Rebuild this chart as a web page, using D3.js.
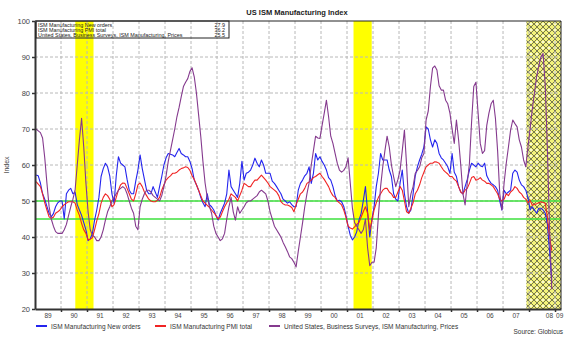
<!DOCTYPE html>
<html>
<head>
<meta charset="utf-8">
<script src="https://cdn.jsdelivr.net/npm/d3@7"></script>
<style>
  html, body { margin: 0; padding: 0; background: #fff; }
  svg { display: block; font-family: "Liberation Sans", Arial, sans-serif; }
</style>
</head>
<body>
<svg id="chart" width="580" height="346"></svg>
<script>
// ---------------- DATA (monthly, Jan 1989 .. Nov 2008) ----------------
const firstYear = 1989;
const seriesNames = [
  "ISM Manufacturing New orders",
  "ISM Manufacturing PMI total",
  "United States, Business Surveys, ISM Manufacturing, Prices"
];
const newOrders = [
  57.2, 57, 55, 52, 50.5, 48.5, 46.6, 45.6, 46.5, 48.4, 49.5, 50,
  50, 45, 52, 53, 53.5, 52, 52.5, 49, 47.5, 46, 44, 42,
  39, 39.5, 41, 44.7, 47.5, 51, 56.8, 59, 60.5, 59.5, 57, 52,
  49.4, 57, 62.3, 60.5, 60, 59.5, 56, 53, 52, 52, 55.5, 58.6,
  62.8, 59, 56, 53, 52, 52, 54, 52.5, 51, 54, 56.8, 60,
  62, 63.2, 63, 62.8, 62.3, 63.5, 64.6, 63.2, 62.8, 62.3, 62.3, 61,
  59, 55.8, 54.5, 53, 51, 49.5, 48.4, 52, 49, 48.4, 47.5, 46,
  44.7, 46.6, 48, 49.4, 52, 58.6, 54, 53, 52, 51, 54.9, 61,
  55.8, 57.7, 58, 58.6, 60, 61.9, 60.5, 59.5, 61.4, 60, 57.7, 57.7,
  57.7, 55.5, 54.9, 54, 53, 52, 50.5, 50, 49.4, 49.8, 49, 48.4,
  48.4, 53, 54.9, 55.8, 57, 57.7, 59.5, 54.9, 57.7, 63.2, 61.4, 62.3,
  61, 60, 58.6, 56.5, 55.8, 54, 51.5, 50, 50.2, 49.8, 48.5, 46,
  43, 40.5, 39.2, 40, 41.5, 44.7, 46.5, 50, 54, 47, 40, 45,
  48.4, 54, 57.7, 63.2, 61.4, 61.4, 61.4, 58.6, 56.8, 52, 50.5, 50,
  55, 58.6, 52, 48.4, 46.6, 47.5, 52, 57, 59.5, 61.4, 63, 65,
  70.6, 70, 67, 65, 67, 66, 63.2, 62, 61.4, 60.5, 59.5, 57.7,
  63.2, 58, 56.8, 54, 52.5, 52, 54, 56, 58.6, 60.5, 60, 59.5,
  60.5, 59.8, 59.5, 60.5, 57, 55.8, 54.9, 54.5, 54, 53, 50, 47.5,
  53, 52, 52.5, 53, 57.7, 58.6, 58, 55.8, 54.5, 54, 53, 51,
  47.5, 48.4, 47.5, 46.6, 48, 48, 47.5, 46.6, 43.5, 36, 27.9
];
const pmiTotal = [
  55.4, 54.7, 54, 52, 49.5, 47.5, 45.6, 45.2, 45.5, 46.6, 47, 47.5,
  48.4, 49, 49.4, 49.8, 49.8, 49.8, 49.4, 47.5, 46, 43.8, 42, 41,
  39.2, 39.4, 39.8, 42, 44.5, 46.5, 49.4, 51, 52, 51.5, 50.5, 48.4,
  49, 51, 53, 54.5, 55, 54.9, 53.5, 52, 50.5, 50, 52, 54.5,
  55, 54, 52.5, 51.5, 50.5, 50, 49.8, 49.8, 50.2, 51, 53, 54.5,
  55.8, 56.5, 57, 57.7, 57.7, 58, 58.6, 59, 59.2, 59.5, 59.3, 58.5,
  57, 56, 54.5, 53, 51.5, 50, 49.4, 48.8, 48.2, 47.5, 46.8, 46,
  45, 45.5, 47, 48.4, 49.5, 50.5, 52, 51.5, 51, 50, 51.5, 53,
  54.9, 54.5, 54, 54, 55, 55.8, 55.8, 56.5, 57.2, 56.5, 55.8, 55,
  54, 53.5, 53, 52.5, 51.5, 49.8, 49.2, 48.9, 48.9, 48.6, 48.2, 47,
  49, 50.5, 52, 52.5, 53.5, 54.9, 55.3, 55.8, 56.5, 56.8, 57.3, 57.7,
  56.8, 56, 55, 54, 52.5, 51.5, 51, 50, 49.5, 48.9, 47.5, 45.5,
  43, 42.5, 42.2, 42.8, 43.5, 44, 45.5, 47, 48.4, 46.6, 42, 44.5,
  47.5, 49.5, 51, 52, 53, 53.5, 53.5, 52.5, 52, 51, 51, 52.5,
  54, 53, 50, 47, 46.6, 48, 49.5, 52, 53, 54.5, 56.5, 58,
  59.5, 60, 60.5, 60.5, 60.9, 60.8, 60.5, 59.5, 58.6, 58, 57.5, 56.8,
  56.8, 56, 55.5, 54, 52.5, 52, 53, 53.5, 54.9, 56.5, 56.8, 55.8,
  56, 56.5, 55.8, 55.5, 54.9, 54.9, 54.5, 54, 53, 52, 50.5, 50,
  50.5, 52, 51.5, 52.5, 53, 54, 53.5, 52.5, 52, 51, 50.5, 49.5,
  50.2, 48.8, 49, 49.2, 49.5, 49.8, 49.6, 49.4, 45.5, 40, 36.2
];
const prices = [
  70, 69.5, 69, 67.5, 62, 55, 48.5, 45, 43, 41.5, 41, 41,
  41, 42, 43.5, 46, 48.4, 50.5, 53, 60, 67, 73, 65, 55,
  47, 42, 40.5, 40, 39, 39, 40, 42, 44.7, 47, 48.4, 50,
  51, 52, 53, 53.5, 54, 53.5, 52, 50, 48, 46.6, 43, 42,
  48.4, 50.5, 52, 53, 53, 52.5, 51.5, 51, 50.5, 50, 51.5, 54,
  57, 61, 64, 67, 70, 73.4, 76, 79, 81.8, 83, 84, 86,
  87, 84.5, 80, 74, 68, 61, 55, 51, 48.5, 46.6, 43, 41,
  40, 39, 39.5, 41, 45, 48.4, 51, 47, 44.7, 48.4, 46.6, 47.5,
  48.4, 49.5, 50, 50, 50.5, 51, 51.5, 52.5, 53, 52.5, 52, 50,
  47, 45, 43, 42, 41, 40, 38.5, 37.3, 36, 34.5, 34, 33,
  31.7, 36, 40, 44, 48.4, 52, 55, 60, 64, 68, 67.5, 67.4,
  71, 74.4, 78, 73.4, 68, 66, 63.2, 60.5, 58.6, 58, 58.5, 59.5,
  62, 55, 48, 44, 43, 42, 41, 42, 45, 37, 32, 33,
  33, 37, 46, 54, 59.5, 64, 68, 65, 60, 56.8, 54, 56,
  58.6, 64, 69.7, 60, 48.4, 52, 54, 57.7, 58.5, 59.5, 62, 63.2,
  72.5, 75, 81.8, 86.9, 87.5, 86.4, 82, 80.8, 80.8, 78, 77, 74.4,
  70, 66, 72.5, 67, 60, 52, 48.9, 55, 60.5, 72, 81.8, 83,
  74.4, 66, 63.2, 64, 71, 74.4, 77, 78, 73, 64, 52, 47.5,
  55, 60.5, 65, 69.7, 72.5, 71.5, 70.6, 67, 65, 61.4, 59.5, 65,
  70, 75.5, 80, 84.5, 87.5, 90, 91, 82, 64, 42, 25.5
];
const yearLabels = ["89","90","91","92","93","94","95","96","97","98","99","00","01","02","03","04","05","06","07","08","09"];
const yTicks = [20, 30, 40, 50, 60, 70, 80, 90, 100];
const refLevels = [50, 45];
// recessions as [start, end] in decimal years; last one is open (hatched)
const recessions = [[1990.55, 1991.25], [2001.25, 2001.95]];
const openRecessionStart = 2007.9;
const xEnd = 2009.23;

// ---------------- LAYOUT ----------------
const svg = d3.select("#chart");
const L = 35, R = 561, T = 21, B = 309;
const x = d3.scaleLinear().domain([firstYear, xEnd]).range([L, R]);
const y = d3.scaleLinear().domain([20, 100]).range([B, T]);
const monthTime = i => firstYear + (i + 0.5) / 12;

const colors = ["#2424ee", "#f02424", "#853a8e"];
const series = [newOrders, pmiTotal, prices];

// pattern for the open recession
const defs = svg.append("defs");
const pat = defs.append("pattern").attr("id", "hatch").attr("patternUnits", "userSpaceOnUse")
  .attr("width", 6).attr("height", 6);
pat.append("rect").attr("width", 6).attr("height", 6).attr("fill", "#f2f27a");
pat.append("path").attr("d", "M0,0L6,6M6,0L0,6").attr("stroke", "#5a5a44").attr("stroke-width", 0.8);
pat.append("circle").attr("cx", 3).attr("cy", 0).attr("r", 1.1).attr("fill", "#fbfbe8");
pat.append("circle").attr("cx", 3).attr("cy", 6).attr("r", 1.1).attr("fill", "#fbfbe8");

// recession shading
svg.append("g").selectAll("rect").data(recessions).join("rect")
  .attr("x", d => x(d[0])).attr("y", T)
  .attr("width", d => x(d[1]) - x(d[0])).attr("height", B - T)
  .attr("fill", "#ffff00");
svg.append("rect").attr("x", x(openRecessionStart)).attr("y", T)
  .attr("width", R - x(openRecessionStart)).attr("height", B - T)
  .attr("fill", "url(#hatch)");

// grid
const years = d3.range(firstYear, firstYear + yearLabels.length);
svg.append("g").selectAll("line").data(years.slice(1)).join("line")
  .attr("x1", d => x(d)).attr("x2", d => x(d)).attr("y1", T).attr("y2", B)
  .attr("stroke", "#b8b8b8").attr("stroke-width", 1).attr("stroke-dasharray", "3,2");
svg.append("g").selectAll("line").data(yTicks.slice(1, -1)).join("line")
  .attr("x1", L).attr("x2", R).attr("y1", d => y(d)).attr("y2", d => y(d))
  .attr("stroke", "#b8b8b8").attr("stroke-width", 1).attr("stroke-dasharray", "3,2");

// reference green lines
svg.append("g").selectAll("line").data(refLevels).join("line")
  .attr("x1", L).attr("x2", R).attr("y1", d => y(d)).attr("y2", d => y(d))
  .attr("stroke", "#3ee03e").attr("stroke-width", 1.4);

// series lines
const line = d3.line().x((d, i) => x(monthTime(i))).y(d => y(d));
[0, 1, 2].forEach(k => {
  svg.append("path").datum(series[k]).attr("d", line)
    .attr("fill", "none").attr("stroke", colors[k]).attr("stroke-width", 1.1)
    .attr("stroke-linejoin", "round");
});

// frame
svg.append("path").attr("d", `M${L},${T}H${R}V${B}`).attr("fill", "none")
  .attr("stroke", "#222").attr("stroke-width", 1);

// axes
const yAxis = svg.append("g").attr("transform", `translate(${L},0)`)
  .call(d3.axisLeft(y).tickValues(yTicks).tickSize(3).tickSizeOuter(0).tickFormat(d3.format("d")));
yAxis.select(".domain").attr("stroke", "#333").attr("stroke-width", 2);
yAxis.selectAll(".tick line").attr("stroke", "#333").attr("stroke-width", 1.5);
yAxis.selectAll("text").attr("font-size", 7.5).attr("fill", "#444").attr("dx", 1).attr("font-family", "Liberation Sans, Arial, sans-serif");

const xAxis = svg.append("g").attr("transform", `translate(0,${B})`)
  .call(d3.axisBottom(x).tickValues(years.slice(1)).tickSize(3).tickSizeOuter(0).tickFormat(""));
xAxis.select(".domain").attr("stroke", "#333").attr("stroke-width", 2);
xAxis.selectAll(".tick line").attr("stroke", "#333").attr("stroke-width", 1.5);

// year labels centred in each year span (last two pushed apart around the final tick)
const nY = yearLabels.length;
svg.append("g").selectAll("text").data(yearLabels).join("text")
  .attr("x", (d, i) => {
    const yr = firstYear + i;
    if (i === nY - 2) return x(yr + 1) - 2;
    if (i === nY - 1) return x(yr) + 1;
    return x(yr + 0.5);
  })
  .attr("y", B + 9)
  .attr("text-anchor", (d, i) => i === nY - 2 ? "end" : (i === nY - 1 ? "start" : "middle"))
  .attr("font-size", 6.5).attr("fill", "#444").text(d => d);

// title
svg.append("text").attr("x", 297).attr("y", 15).attr("text-anchor", "middle")
  .attr("font-size", 7.5).attr("font-weight", "bold").attr("fill", "#222")
  .text("US ISM Manufacturing Index");

// y label
svg.append("text").attr("transform", `translate(9,${(T + B) / 2}) rotate(-90)`)
  .attr("text-anchor", "middle").attr("font-size", 7).attr("fill", "#444").text("Index");

// inset legend (top-left, with last values)
const lg = svg.append("g");
lg.append("rect").attr("x", L + 1).attr("y", T).attr("width", 193).attr("height", 17)
  .attr("fill", "none").attr("stroke", "#222").attr("stroke-width", 1);
seriesNames.forEach((name, k) => {
  lg.append("text").attr("x", L + 3).attr("y", T + 5.5 + k * 5)
    .attr("font-size", 5.4).attr("fill", "#222").text(name);
  lg.append("text").attr("x", L + 190).attr("y", T + 5.5 + k * 5).attr("text-anchor", "end")
    .attr("font-size", 5.4).attr("fill", "#222").text(d3.format(".1f")(series[k][series[k].length - 1]));
});

// bottom legend
const legX = [36, 155, 269];
seriesNames.forEach((name, k) => {
  svg.append("line").attr("x1", legX[k]).attr("x2", legX[k] + 11).attr("y1", 326).attr("y2", 326)
    .attr("stroke", colors[k]).attr("stroke-width", 2);
  svg.append("text").attr("x", legX[k] + 15).attr("y", 328.5)
    .attr("font-size", 6.5).attr("fill", "#333").text(name);
});
svg.append("text").attr("x", 563).attr("y", 334).attr("text-anchor", "end")
  .attr("font-size", 6.5).attr("fill", "#333").text("Source: Globicus");
</script>
</body>
</html>
